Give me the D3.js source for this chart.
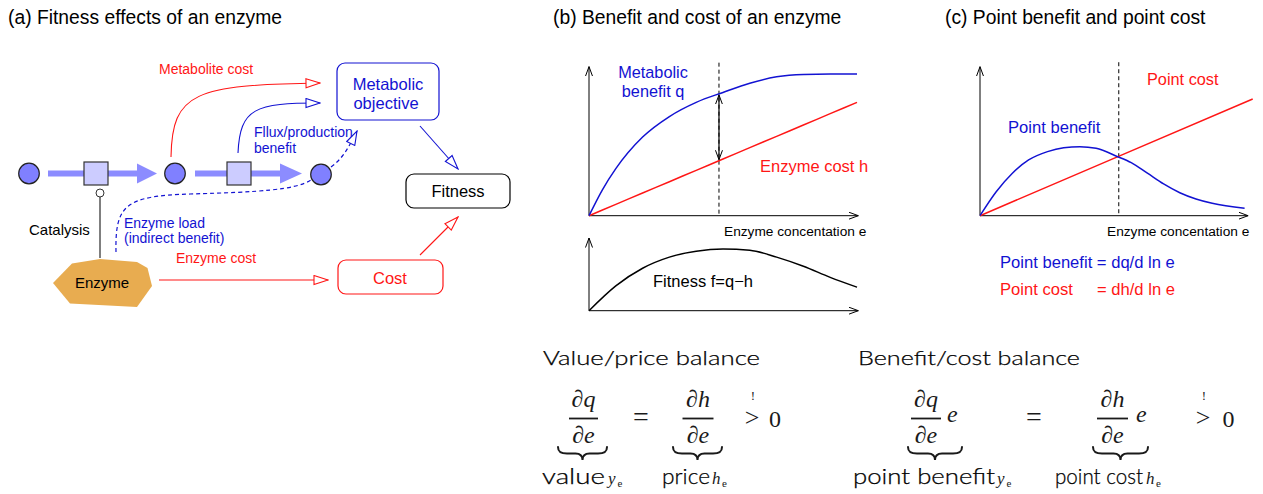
<!DOCTYPE html>
<html>
<head>
<meta charset="utf-8">
<script src="https://cdn.jsdelivr.net/npm/d3@7"></script>
<style>
  body { margin: 0; background: #fff; }
  text { font-family: "Liberation Sans", Arial, sans-serif; }
  .math { font-family: "Liberation Serif", "DejaVu Serif", serif; }
  .cm { font-family: Lato, "DejaVu Sans", sans-serif; font-weight: 300; }
</style>
</head>
<body>
<svg width="1263" height="494"></svg>
<script>
// panel (b): metabolic benefit q and enzyme cost h over enzyme level e
var eBenefit = [0, 0.5, 1, 2, 3, 4, 5, 6, 7, 8, 9, 10];
var benefitQ = [0, 0.183, 0.332, 0.555, 0.70, 0.80, 0.87, 0.935, 0.98, 0.997, 1.0, 1.0];
var eCost = [0, 1, 2, 3, 4, 5, 6, 7, 8, 9, 10];
var costH = [0, 0.08, 0.16, 0.24, 0.32, 0.40, 0.48, 0.56, 0.64, 0.72, 0.80];
var fitnessF = [0, 0.19, 0.325, 0.41, 0.455, 0.472, 0.462, 0.41, 0.34, 0.255, 0.18];
var optimumB = 4.85;

// panel (c): point benefit and point cost
var ePoint = [0, 0.6, 1.2, 1.8, 2.5, 3.1, 3.7, 4.3, 5.1, 5.6, 6.2, 6.8, 7.4, 8, 8.6, 9.8];
var pointBenefit = [0, 0.161, 0.285, 0.374, 0.43, 0.456, 0.463, 0.452, 0.396, 0.356, 0.285, 0.213, 0.154, 0.112, 0.083, 0.05];
var ePointCost = [0, 5, 10.1];
var pointCost = [0, 0.388, 0.783];
var optimumC = 5.14;

var blue = "#1212d2", red = "#ff1616", flow = "#8c8cff";

var svg = d3.select("svg");
var defs = svg.append("defs");

function openHead(id, color) {
  defs.append("marker").attr("id", id)
      .attr("viewBox", "0 0 16 11").attr("refX", 15).attr("refY", 5.5)
      .attr("markerWidth", 16).attr("markerHeight", 11)
      .attr("markerUnits", "userSpaceOnUse").attr("orient", "auto")
    .append("path").attr("d", "M1,1 L15,5.5 L1,10 Z")
      .attr("fill", "#fff").attr("stroke", color).attr("stroke-width", 1.1);
}
openHead("hr", red);
openHead("hb", blue);

defs.append("marker").attr("id", "v")
    .attr("viewBox", "0 0 10 8").attr("refX", 9.5).attr("refY", 4)
    .attr("markerWidth", 10).attr("markerHeight", 8)
    .attr("markerUnits", "userSpaceOnUse").attr("orient", "auto-start-reverse")
  .append("path").attr("d", "M0,0.5 L9.5,4 L0,7.5")
    .attr("fill", "none").attr("stroke", "#000").attr("stroke-width", 1);

function label(g, x, y, s, size, color, anchor) {
  return g.append("text").attr("x", x).attr("y", y)
      .attr("font-size", size).attr("fill", color || "#000")
      .attr("text-anchor", anchor || "start").text(s);
}

// titles
label(svg, 8, 24, "(a) Fitness effects of an enzyme", 19.3);
label(svg, 553, 24, "(b) Benefit and cost of an enzyme", 19.3);
label(svg, 945, 24, "(c) Point benefit and point cost", 19.3);

// ---------- panel (a): schematic ----------
var ga = svg.append("g");

[[48, 140, 157], [195, 283, 302]].forEach(function(a) {
  ga.append("line").attr("x1", a[0]).attr("x2", a[1]).attr("y1", 173.5).attr("y2", 173.5)
      .attr("stroke", flow).attr("stroke-width", 6);
  ga.append("path").attr("d", "M" + (a[1] - 3) + ",163.5 L" + a[2] + ",173.5 L" + (a[1] - 3) + ",183.5 Z")
      .attr("fill", flow);
});

[[84, 162], [227, 162]].forEach(function(p) {
  ga.append("rect").attr("x", p[0]).attr("y", p[1]).attr("width", 24).attr("height", 23)
      .attr("fill", "#ccccff").attr("stroke", "#333").attr("stroke-width", 1.2);
});

[[29, 173.5], [175, 173.5], [321, 174.5]].forEach(function(p) {
  ga.append("circle").attr("cx", p[0]).attr("cy", p[1]).attr("r", 10.3)
      .attr("fill", "#8080ff").attr("stroke", "#222").attr("stroke-width", 1.2);
});

// catalysis link
ga.append("line").attr("x1", 100).attr("x2", 100).attr("y1", 197).attr("y2", 258)
    .attr("stroke", "#555").attr("stroke-width", 1.5);
ga.append("circle").attr("cx", 100).attr("cy", 193).attr("r", 4)
    .attr("fill", "#fff").attr("stroke", "#333").attr("stroke-width", 1);

// enzyme shape
ga.append("polygon")
    .attr("points", "53,283 72,263.5 100,259 137,262 147.5,268 152,286 137,307 70,303.5")
    .attr("fill", "#e8ac50");
label(ga, 102, 288, "Enzyme", 15, "#000", "middle");

// curved influences
ga.append("path").attr("d", "M171,157 C172,92 195,85 320,83")
    .attr("fill", "none").attr("stroke", red).attr("stroke-width", 1.1).attr("marker-end", "url(#hr)");
ga.append("path").attr("d", "M238,153 C240,108 255,103 320,103")
    .attr("fill", "none").attr("stroke", blue).attr("stroke-width", 1.1).attr("marker-end", "url(#hb)");
ga.append("path").attr("d", "M116,252 C115,205 125,196 190,194 C260,192 295,190 311,180")
    .attr("fill", "none").attr("stroke", blue).attr("stroke-width", 1.2).attr("stroke-dasharray", "4,3");
ga.append("path").attr("d", "M331,167 C342,159 348,149 357,131")
    .attr("fill", "none").attr("stroke", blue).attr("stroke-width", 1.2).attr("stroke-dasharray", "4,3")
    .attr("marker-end", "url(#hb)");
ga.append("line").attr("x1", 159).attr("y1", 280).attr("x2", 328).attr("y2", 280)
    .attr("stroke", red).attr("stroke-width", 1.1).attr("marker-end", "url(#hr)");
ga.append("line").attr("x1", 420).attr("y1", 126).attr("x2", 458).attr("y2", 169)
    .attr("stroke", blue).attr("stroke-width", 1.1).attr("marker-end", "url(#hb)");
ga.append("line").attr("x1", 420).attr("y1", 255).attr("x2", 458).attr("y2", 217)
    .attr("stroke", red).attr("stroke-width", 1.1).attr("marker-end", "url(#hr)");

// boxes
ga.append("rect").attr("x", 337).attr("y", 63).attr("width", 102).attr("height", 57).attr("rx", 8)
    .attr("fill", "#fff").attr("stroke", blue).attr("stroke-width", 1.2);
label(ga, 388, 90, "Metabolic", 16.5, blue, "middle");
label(ga, 386, 109, "objective", 16.5, blue, "middle");
ga.append("rect").attr("x", 406).attr("y", 174).attr("width", 104).attr("height", 34).attr("rx", 8)
    .attr("fill", "#fff").attr("stroke", "#000").attr("stroke-width", 1.2);
label(ga, 458, 197, "Fitness", 16.5, "#000", "middle");
ga.append("rect").attr("x", 338).attr("y", 260).attr("width", 105).attr("height", 34).attr("rx", 8)
    .attr("fill", "#fff").attr("stroke", red).attr("stroke-width", 1.2);
label(ga, 390, 284, "Cost", 16.5, red, "middle");

label(ga, 159, 74, "Metabolite cost", 14, red);
label(ga, 254, 137, "Fllux/production", 14, blue);
label(ga, 254, 153, "benefit", 14, blue);
label(ga, 29, 235, "Catalysis", 15, "#000");
label(ga, 124, 228, "Enzyme load", 14, blue);
label(ga, 124, 243, "(indirect benefit)", 14, blue);
label(ga, 176, 263, "Enzyme cost", 14, red);

// ---------- panel (b) ----------
var xB = d3.scaleLinear().domain([0, 10]).range([589, 857]);
var yB = d3.scaleLinear().domain([0, 1]).range([215.7, 74]);
var yF = d3.scaleLinear().domain([0, 0.5]).range([310.7, 245.35]);

var gb = svg.append("g");

function axes(g, x, y, xTip, yTip) {
  var x0 = x.range()[0], y0 = y.range()[0];
  g.append("line").attr("x1", x0).attr("y1", y0).attr("x2", x0).attr("y2", y(yTip))
      .attr("stroke", "#000").attr("marker-end", "url(#v)");
  g.append("line").attr("x1", x0).attr("y1", y0).attr("x2", x(xTip)).attr("y2", y0)
      .attr("stroke", "#000").attr("marker-end", "url(#v)");
}

axes(gb, xB, yB, 10.05, 1.052);
axes(gb, xB, yF, 10.05, 0.556);

gb.append("line").attr("x1", xB(optimumB)).attr("x2", xB(optimumB))
    .attr("y1", yB(1.08)).attr("y2", yB(0))
    .attr("stroke", "#000").attr("stroke-dasharray", "4,3");

var lineB = d3.line().x(function(d) { return xB(d[0]); }).y(function(d) { return yB(d[1]); })
    .curve(d3.curveMonotoneX);
var lineF = d3.line().x(function(d) { return xB(d[0]); }).y(function(d) { return yF(d[1]); })
    .curve(d3.curveMonotoneX);

gb.append("path").datum(d3.zip(eCost, costH)).attr("d", lineB)
    .attr("fill", "none").attr("stroke", red).attr("stroke-width", 1.5);
gb.append("path").datum(d3.zip(eBenefit, benefitQ)).attr("d", lineB)
    .attr("fill", "none").attr("stroke", blue).attr("stroke-width", 1.5);
gb.append("path").datum(d3.zip(eCost, fitnessF)).attr("d", lineF)
    .attr("fill", "none").attr("stroke", "#000").attr("stroke-width", 1.5);

// gap between benefit and cost at the optimum
var qAt = d3.scaleLinear().domain(eBenefit).range(benefitQ)(optimumB);
var hAt = d3.scaleLinear().domain(eCost).range(costH)(optimumB);
gb.append("line").attr("x1", xB(optimumB)).attr("x2", xB(optimumB))
    .attr("y1", yB(qAt) + 1).attr("y2", yB(hAt) - 1)
    .attr("stroke", "#000").attr("stroke-width", 1.2)
    .attr("marker-start", "url(#v)").attr("marker-end", "url(#v)");

label(gb, 653, 78, "Metabolic", 16.3, blue, "middle");
label(gb, 653, 97, "benefit q", 16.3, blue, "middle");
label(gb, 760, 172, "Enzyme cost h", 16.5, red);
label(gb, 724, 236, "Enzyme concentation e", 13.7, "#000");
label(gb, 653, 287, "Fitness f=q\u2212h", 16.5, "#000");

// ---------- panel (c) ----------
var xC = d3.scaleLinear().domain([0, 10]).range([980, 1250]);
var yC = d3.scaleLinear().domain([0, 1]).range([215.7, 66.7]);
var gc = svg.append("g");
axes(gc, xC, yC, 9.93, 1.0);

gc.append("line").attr("x1", xC(optimumC)).attr("x2", xC(optimumC))
    .attr("y1", yC(1.03)).attr("y2", yC(0))
    .attr("stroke", "#000").attr("stroke-dasharray", "4,3");

var lineC = d3.line().x(function(d) { return xC(d[0]); }).y(function(d) { return yC(d[1]); })
    .curve(d3.curveMonotoneX);
gc.append("path").datum(d3.zip(ePointCost, pointCost)).attr("d", lineC)
    .attr("fill", "none").attr("stroke", red).attr("stroke-width", 1.5);
gc.append("path").datum(d3.zip(ePoint, pointBenefit)).attr("d", lineC)
    .attr("fill", "none").attr("stroke", blue).attr("stroke-width", 1.5);

label(gc, 1147, 85, "Point cost", 16.3, red);
label(gc, 1008, 133, "Point benefit", 16.6, blue);
label(gc, 1107, 236, "Enzyme concentation e", 13.7, "#000");
label(gc, 1000, 268, "Point benefit = dq/d ln e", 16.6, blue);
label(gc, 1000, 295, "Point cost", 16.6, red);
label(gc, 1097, 295, "= dh/d ln e", 16.6, red);

// ---------- balance equations ----------
var gm = svg.append("g");
var ink = "#1a1a1a";

function cmText(x, y, s, w, size) {
  gm.append("text").attr("class", "cm").attr("x", x).attr("y", y)
      .attr("font-size", size).attr("fill", "#000")
      .attr("stroke", "#000").attr("stroke-width", 0.25)
      .attr("textLength", w).attr("lengthAdjust", "spacingAndGlyphs").text(s);
}
function math(x, y, s, size, italic, anchor) {
  return gm.append("text").attr("class", "math").attr("x", x).attr("y", y)
      .attr("font-size", size).attr("font-style", italic ? "italic" : "normal")
      .attr("text-anchor", anchor || "middle").attr("fill", ink).text(s);
}
function frac(cx, w, num, den) {
  math(cx, 407, num, 24, true);
  math(cx, 443, den, 24, true);
  gm.append("line").attr("x1", cx - w / 2).attr("x2", cx + w / 2).attr("y1", 418.5).attr("y2", 418.5)
      .attr("stroke", ink).attr("stroke-width", 1.8);
}
// ">" with a small "!" stacked above it
function gtBang(cx) {
  math(cx, 426, ">", 26, false);
  math(cx + 1, 399.5, "!", 13, false);
}
function brace(x0, x1, y) {
  var xm = (x0 + x1) / 2, m = y + 6.5;
  var d = "M" + x0 + "," + y + " C" + x0 + "," + (y + 5) + " " + (x0 + 3) + "," + m + " " + (x0 + 9) + "," + m +
    " L" + (xm - 7) + "," + m + " C" + (xm - 2) + "," + m + " " + xm + "," + (y + 9) + " " + xm + "," + (y + 13) +
    " C" + xm + "," + (y + 9) + " " + (xm + 2) + "," + m + " " + (xm + 7) + "," + m +
    " L" + (x1 - 9) + "," + m + " C" + (x1 - 3) + "," + m + " " + x1 + "," + (y + 5) + " " + x1 + "," + y;
  gm.append("path").attr("d", d).attr("fill", "none").attr("stroke", ink)
      .attr("stroke-width", 2).attr("stroke-linecap", "round");
}
function sub(x, y, v) {
  var t = gm.append("text").attr("class", "math").attr("fill", ink);
  t.append("tspan").attr("x", x).attr("y", y).attr("font-size", 17).attr("font-style", "italic").text(v);
  t.append("tspan").attr("x", x + (v === "y" ? 9.5 : 10)).attr("y", y + 3).attr("font-size", 11).text("e");
}

cmText(543, 365, "Value/price balance", 217, 20);
cmText(858, 365, "Benefit/cost balance", 222, 20);

// value / price
frac(583.5, 29, "\u2202q", "\u2202e");
math(641, 426, "=", 28, false);
frac(698, 31, "\u2202h", "\u2202e");
gtBang(752);
math(775, 427, "0", 24, false);
brace(558, 607, 447);
brace(673, 722, 447);
cmText(542, 484, "value", 63, 21);
sub(608, 484, "y");
cmText(662, 484, "price", 48, 21);
sub(712, 484, "h");

// point benefit / point cost
frac(926, 30, "\u2202q", "\u2202e");
math(947, 422, "e", 24, true, "start");
math(1034, 426, "=", 28, false);
frac(1112.5, 31, "\u2202h", "\u2202e");
math(1136, 422, "e", 24, true, "start");
gtBang(1203);
math(1228.5, 427, "0", 24, false);
brace(908, 962, 447);
brace(1093, 1148, 447);
cmText(853, 484, "point benefit", 142, 21);
sub(997, 484, "y");
cmText(1055, 484, "point cost", 88, 21);
sub(1146, 484, "h");
</script>
</body>
</html>
